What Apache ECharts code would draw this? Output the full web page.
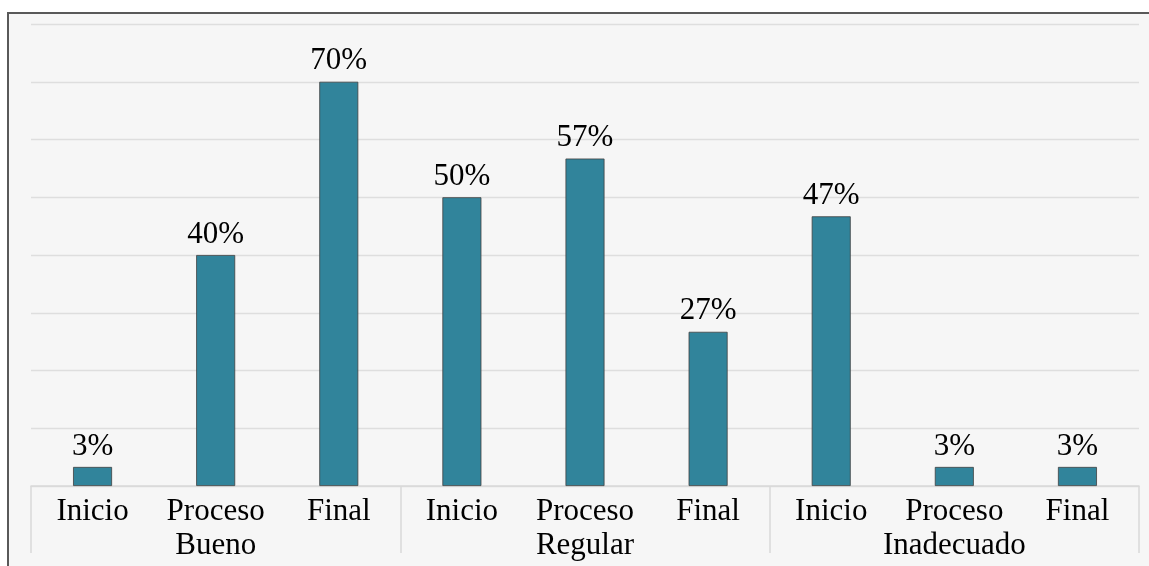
<!DOCTYPE html>
<html>
<head>
<meta charset="utf-8">
<script src="https://cdn.jsdelivr.net/npm/echarts@6/dist/echarts.min.js"></script>
<style>html,body{margin:0;padding:0;background:#fff;}#c{width:1149px;height:566px;}</style>
</head>
<body>
<div id="c"></div>
<script>
const categories = ['Inicio', 'Proceso', 'Final', 'Inicio', 'Proceso', 'Final', 'Inicio', 'Proceso', 'Final'];
const groups = ['Bueno', 'Regular', 'Inadecuado'];
const values = [3.3, 40, 70, 50, 56.7, 26.7, 46.7, 3.3, 3.3];

const font = '"Liberation Serif", "Times New Roman", serif';
const chart = echarts.init(document.getElementById('c'));
chart.setOption({
  animation: false,
  backgroundColor: '#ffffff',
  graphic: [{
    type: 'rect', z: -10, silent: true,
    shape: { x: 8, y: 13, width: 1160, height: 580 },
    style: { fill: '#f6f6f6', stroke: '#595959', lineWidth: 2 }
  }],
  grid: { left: 31, right: 10, top: 24, bottom: 80, containLabel: false },
  xAxis: [{
    type: 'category',
    data: categories,
    position: 'bottom',
    axisLine: { show: true, lineStyle: { color: '#d9d9d9', width: 1.5 } },
    axisTick: { show: false },
    axisLabel: { color: '#000', fontFamily: font, fontSize: 31, lineHeight: 31, margin: 10, interval: 0 }
  }, {
    type: 'category',
    data: groups,
    position: 'bottom',
    axisLine: { show: false },
    axisTick: { show: true, length: 67, lineStyle: { color: '#d9d9d9', width: 1.5 } },
    axisLabel: { color: '#000', fontFamily: font, fontSize: 31, lineHeight: 31, margin: 44, interval: 0 }
  }],
  yAxis: {
    type: 'value', min: 0, max: 80, interval: 10,
    axisLine: { show: false }, axisTick: { show: false }, axisLabel: { show: false },
    splitLine: { lineStyle: { color: '#dedede', width: 1.3 } }
  },
  series: [{
    type: 'bar',
    data: values,
    xAxisIndex: 0,
    barWidth: 39,
    itemStyle: { color: '#31849b', borderColor: '#404040', borderWidth: 0.8 },
    label: {
      show: true, position: 'top', distance: 5,
      color: '#000', fontFamily: font, fontSize: 31, lineHeight: 31,
      formatter: p => Math.round(p.value) + '%'
    }
  }]
});
</script>
</body>
</html>
